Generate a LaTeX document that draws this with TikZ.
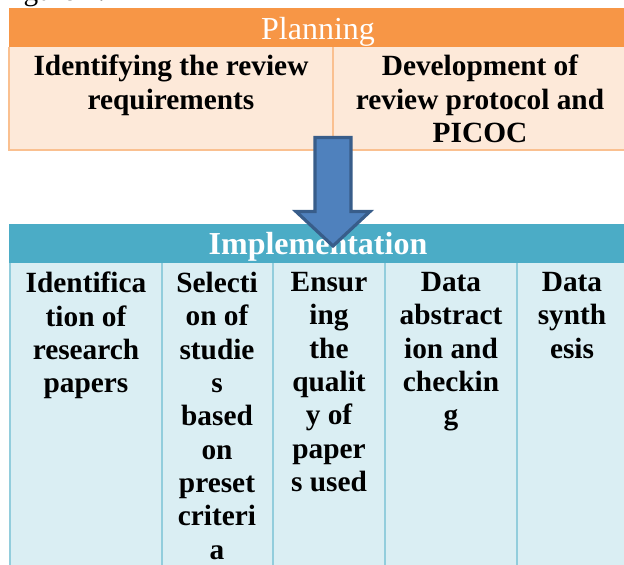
\documentclass[tikz,border=0pt]{standalone}
\usepackage{fontspec}
\setmainfont{Liberation Serif}
\usetikzlibrary{positioning}

\definecolor{planhead}{HTML}{F79646}
\definecolor{planbody}{HTML}{FDE9D9}
\definecolor{planline}{HTML}{FAC090}
\definecolor{implhead}{HTML}{4BACC6}
\definecolor{implbody}{HTML}{DAEEF3}
\definecolor{implline}{HTML}{92CDDC}
\definecolor{arrowfill}{HTML}{4F81BD}
\definecolor{arrowline}{HTML}{385D8A}

\begin{document}
\begin{tikzpicture}[x=0.75pt,y=-0.75pt,line join=miter,
	head/.style={anchor=base,text=white,inner sep=0,font=\fontsize{24}{28}\selectfont},
	cell/.style={anchor=north,align=center,inner sep=0,font=\fontsize{22}{25}\selectfont\bfseries}]
	
	\useasboundingbox (0,0) rectangle (624,564);
	\clip (0,0) rectangle (624,564);
	
	% caption line, cut off at the top edge
	\node[anchor=base west,inner sep=0,font=\fontsize{22}{25}\selectfont] (fig) at (-1,1) {Figure 1.};
	
	% planning block
	\fill[planbody] (9,47) rectangle (627,150);
	\draw[planline,line width=1.5] (9,47) -- (9,150) -- (627,150) (333,47) -- (333,150);
	\fill[planhead] (9,8) rectangle (627,47);
	\node[head] (plan) at (318,39) {Planning};
	\node[cell] (req) at (171,55) {Identifying the review\\requirements};
	\node[cell] (proto) at (480,55) {Development of\\review protocol and\\PICOC};
	
	% implementation block
	\fill[implbody] (10,263) rectangle (627,570);
	\fill[implhead] (9,224) rectangle (627,263);
	\draw[implline,line width=1.5] (10,263) -- (10,570)
		foreach \x in {162,273,385,517} {(\x,263) -- (\x,570)};
	\node[head,font=\fontsize{24}{28}\selectfont\bfseries] (impl) at (318,254) {Implementation};
	\node[cell] (ident) at (86,272) {Identifica\\tion of\\research\\papers};
	\node[cell] (select) at (217,272) {Selecti\\on of\\studie\\s\\based\\on\\preset\\criteri\\a};
	\node[cell] (qual) at (329,272) {Ensur\\ing\\the\\qualit\\y of\\paper\\s used};
	\node[cell] (abstr) at (451,272) {Data\\abstract\\ion and\\checkin\\g};
	\node[cell] (synth) at (572,272) {Data\\synth\\esis};
	
	% block arrow from planning down to implementation
	\draw[arrowline,fill=arrowfill,line width=2.4]
		(315,137.5) -- (351,137.5) -- (351,211.5) -- (370,211.5) -- (333,246)
		-- (296,211.5) -- (315,211.5) -- cycle;
\end{tikzpicture}
\end{document}
